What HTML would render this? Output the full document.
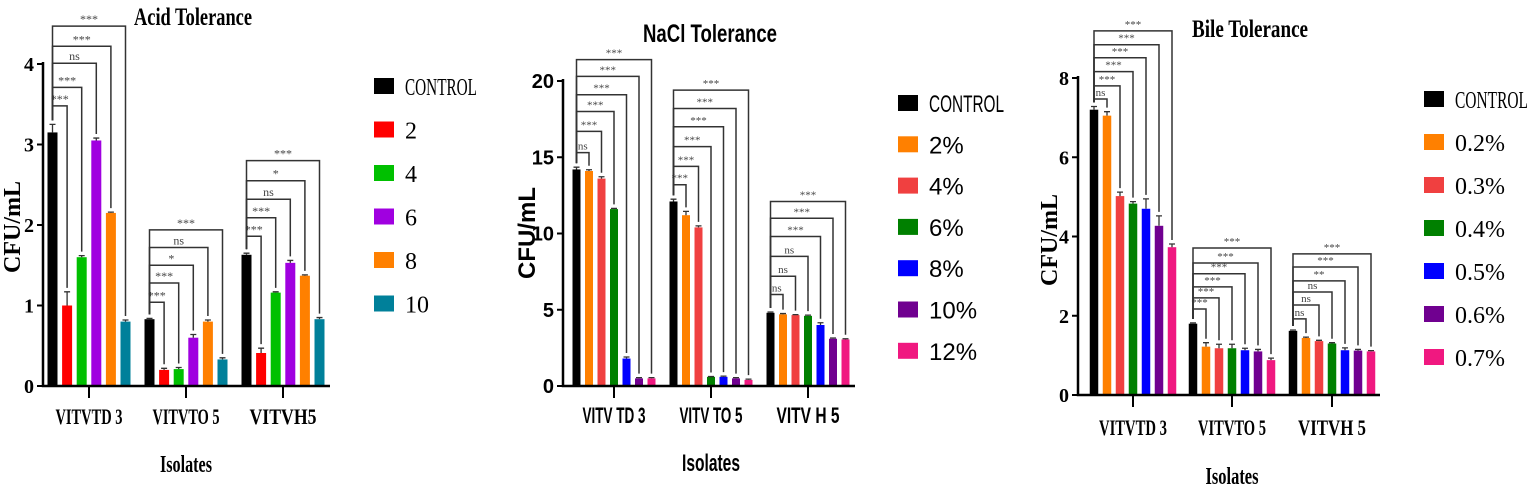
<!DOCTYPE html>
<html><head><meta charset="utf-8"><style>
html,body{margin:0;padding:0;background:#fff;}
svg{display:block;}
</style></head><body>
<svg id="root" width="1535" height="490" viewBox="0 0 1535 490" xmlns="http://www.w3.org/2000/svg"></svg>
<script>
// ---------- DATA ----------
const groups = ["VITVTD 3","VITVTO 5","VITVH5"];
const groupsNaCl = ["VITV TD 3","VITV TO 5","VITV H 5"];
const groupsBile = ["VITVTD 3","VITVTO 5","VITVH 5"];

const acidSeries = ["CONTROL","2","4","6","8","10"];
const acidColors = ["#000000","#ff0000","#00c000","#a000e0","#ff8000","#00809a"];
const acidValues = [[3.15,1.0,1.6,3.05,2.15,0.8],[0.83,0.2,0.21,0.6,0.8,0.33],[1.63,0.41,1.16,1.53,1.37,0.83]];
const acidErrors = [[0.1,0.17,0.02,0.03,0.01,0.02],[0.01,0.02,0.02,0.04,0.02,0.02],[0.02,0.06,0.01,0.03,0.01,0.02]];
const acidTicks = [0,1,2,3,4];
const acidBrackets = [[3.48,3.71,4.01,4.22,4.47],[1.04,1.28,1.5,1.72,1.94],[1.86,2.09,2.32,2.55,2.8]];
const acidSig = [["***","***","ns","***","***"],["***","***","*","ns","***"],["***","***","ns","*","***"]];

const naclSeries = ["CONTROL","2%","4%","6%","8%","10%","12%"];
const naclColors = ["#000000","#ff8000","#f04040","#008000","#0000ff","#700090","#f01880"];
const naclValues = [[14.2,14.1,13.6,11.6,1.8,0.5,0.5],[12.1,11.2,10.4,0.6,0.6,0.5,0.4],[4.8,4.7,4.65,4.6,4.0,3.1,3.05]];
const naclErrors = [[0.15,0.08,0.12,0.05,0.1,0.05,0.05],[0.15,0.25,0.1,0.02,0.05,0.05,0.05],[0.05,0.05,0.03,0.05,0.15,0.05,0.05]];
const naclTicks = [0,5,10,15,20];
const naclBrackets = [[15.3,16.7,18.0,19.1,20.3,21.4],[13.2,14.4,15.7,17.0,18.2,19.4],[6.0,7.2,8.5,9.8,11.0,12.1]];
const naclSig = [["ns","***","***","***","***","***"],["***","***","***","***","***","***"],["ns","ns","ns","***","***","***"]];

const bileSeries = ["CONTROL","0.2%","0.3%","0.4%","0.5%","0.6%","0.7%"];
const bileColors = ["#000000","#ff8000","#f04040","#008000","#0000ff","#700090","#f01880"];
const bileValues = [[7.2,7.05,5.02,4.83,4.7,4.27,3.73],[1.8,1.22,1.18,1.18,1.13,1.1,0.88],[1.62,1.44,1.36,1.3,1.13,1.12,1.1]];
const bileErrors = [[0.08,0.1,0.1,0.05,0.25,0.25,0.08],[0.02,0.1,0.1,0.1,0.05,0.05,0.05],[0.02,0.02,0.02,0.02,0.06,0.03,0.02]];
const bileTicks = [0,2,4,6,8];
const bileBrackets = [[7.47,7.8,8.16,8.51,8.84,9.19],[2.17,2.45,2.73,3.06,3.33,3.71],[1.92,2.27,2.6,2.88,3.23,3.56]];
const bileSig = [["ns","***","***","***","***","***"],["***","***","***","***","***","***"],["ns","ns","ns","**","***","***"]];

// ---------- DRAW ----------
const NS="http://www.w3.org/2000/svg";
const root=document.getElementById('root');
function mk(tag,attrs,parent){const e=document.createElementNS(NS,tag);for(const k in attrs)e.setAttribute(k,attrs[k]);(parent||root).appendChild(e);return e;}

function chart(cfg){
  const g=mk('g',{});
  
  
  const yS=v=>cfg.y0-(v/cfg.ymax)*(cfg.y0-cfg.ytop);
  const n=cfg.series.length;
  cfg.values.forEach((vals,gi)=>{
    const cx=cfg.gx[gi];
    vals.forEach((v,si)=>{
      const x=cx+(si-(n-1)/2)*cfg.step;
      const r=mk('rect',{x:x-cfg.bw/2,y:yS(v),width:cfg.bw,height:cfg.y0-yS(v),fill:cfg.colors[si]},g);
      
      
      const e=cfg.errors[gi][si];
      const ey=yS(v+e);
      const eb=mk('path',{d:`M${x} ${yS(v)}V${ey}M${x-3} ${ey}H${x+3}`,stroke:'#333',"stroke-width":1.3,fill:'none'},g);
      
      
    });
    const x0=cx-(n-1)/2*cfg.step;
    cfg.brackets[gi].forEach((bv,bi)=>{
      const si=bi+1;
      const x1=cx+(si-(n-1)/2)*cfg.step;
      const by=yS(bv);
      const leftBottom=yS(vals[0]+cfg.errors[gi][0])-4;
      const rightBottom=yS(vals[si]+cfg.errors[gi][si])-4;
      const p=mk('path',{d:`M${x0} ${leftBottom}V${by}H${x1}V${rightBottom}`,stroke:'#333',"stroke-width":1.5,fill:'none'},g);
      
      
      const t=mk('text',{x:(x0+x1)/2,y:by-3,"text-anchor":'middle',"font-family":'"Liberation Serif",serif',"font-size":cfg.sigSize,fill:'#444'},g);
      t.textContent=cfg.sig[gi][bi];
      
      
    });
  });
  const ax=mk('path',{d:`M${cfg.ax} ${cfg.ytop-2}V${cfg.y0}H${cfg.axEnd}`,stroke:'#000',"stroke-width":2.5,fill:'none'},g);
  
  
  cfg.ticks.forEach(t=>{
    const y=yS(t);
    const tk=mk('path',{d:`M${cfg.ax-6} ${y}H${cfg.ax}`,stroke:'#000',"stroke-width":2},g);
    
    
    const tl=mk('text',{x:cfg.ax-9,y:y+7,"text-anchor":'end',"font-family":cfg.font,"font-weight":'bold',"font-size":20},g);
    tl.textContent=t;
    
    
  });
  cfg.gx.forEach((x,gi)=>{
    const tk=mk('path',{d:`M${x} ${cfg.y0}V${cfg.y0+12}`,stroke:'#000',"stroke-width":2},g);
    
    
    const tl=mk('text',{x:x,y:cfg.glY,"text-anchor":'middle',"font-family":cfg.font,"font-weight":'bold',"font-size":22,textLength:cfg.glW,lengthAdjust:'spacingAndGlyphs'},g);
    tl.textContent=cfg.groups[gi];
    
    
  });
  const title=mk('text',{x:cfg.titleX,y:cfg.titleY,"text-anchor":'middle',"font-family":cfg.font,"font-weight":'bold',"font-size":25,textLength:cfg.titleW,lengthAdjust:'spacingAndGlyphs'},g);
  title.textContent=cfg.title;
  
  
  const yl=mk('text',{x:0,y:0,transform:`translate(${cfg.ylX},${cfg.ylY}) rotate(-90)`,"text-anchor":'middle',"font-family":cfg.font,"font-weight":'bold',"font-size":24},g);
  yl.textContent='CFU/mL';
  
  
  const xl=mk('text',{x:cfg.gx[1],y:cfg.xlY,"text-anchor":'middle',"font-family":cfg.font,"font-weight":'bold',"font-size":24,textLength:cfg.xlW,lengthAdjust:'spacingAndGlyphs'},g);
  xl.textContent='Isolates';
  
  
  cfg.series.forEach((s,si)=>{
    const y=cfg.legY+si*cfg.legStep;
    const r=mk('rect',{x:cfg.legX,y:y-8,width:20,height:16,fill:cfg.colors[si]},g);
    
    
    const t=mk('text',{x:cfg.legX+31,y:y+9,"font-family":cfg.legFont,"font-size":24},g);
    if(s==='CONTROL'){t.setAttribute('textLength',cfg.ctrlW);t.setAttribute('lengthAdjust','spacingAndGlyphs');}
    t.textContent=s;
    
    
  });
}

chart({name:'acid-tolerance-chart',title:'Acid Tolerance',titleX:193,titleY:25,titleW:118,font:'"Liberation Serif",serif',legFont:'"Liberation Serif",serif',
  series:acidSeries,colors:acidColors,values:acidValues,errors:acidErrors,ticks:acidTicks,brackets:acidBrackets,sig:acidSig,groups:groups,
  y0:386,ytop:64,ymax:4,ax:43,axEnd:330,gx:[89,186,283],step:14.6,bw:10,sigSize:12,
  glY:424,glW:67,xlY:472,xlW:52,ylX:20,ylY:227,legX:374,legY:86,legStep:43.5,ctrlW:72});

chart({name:'nacl-tolerance-chart',title:'NaCl Tolerance',titleX:710,titleY:42,titleW:134,font:'"Liberation Sans",sans-serif',legFont:'"Liberation Sans",sans-serif',
  series:naclSeries,colors:naclColors,values:naclValues,errors:naclErrors,ticks:naclTicks,brackets:naclBrackets,sig:naclSig,groups:groupsNaCl,
  y0:386,ytop:81,ymax:20,ax:563,axEnd:855,gx:[614,711,808],step:12.5,bw:8,sigSize:11,
  glY:423,glW:63,xlY:471,xlW:58,ylX:535,ylY:233,legX:898,legY:103,legStep:41.3,ctrlW:75});

chart({name:'bile-tolerance-chart',title:'Bile Tolerance',titleX:1250,titleY:37,titleW:116,font:'"Liberation Serif",serif',legFont:'"Liberation Serif",serif',
  series:bileSeries,colors:bileColors,values:bileValues,errors:bileErrors,ticks:bileTicks,brackets:bileBrackets,sig:bileSig,groups:groupsBile,
  y0:395,ytop:78,ymax:8,ax:1078,axEnd:1380,gx:[1133,1232,1332],step:13,bw:8.5,sigSize:11,
  glY:435,glW:68,xlY:484,xlW:53,ylX:1057,ylY:240,legX:1424,legY:99,legStep:43,ctrlW:73});
</script>
</body></html>
